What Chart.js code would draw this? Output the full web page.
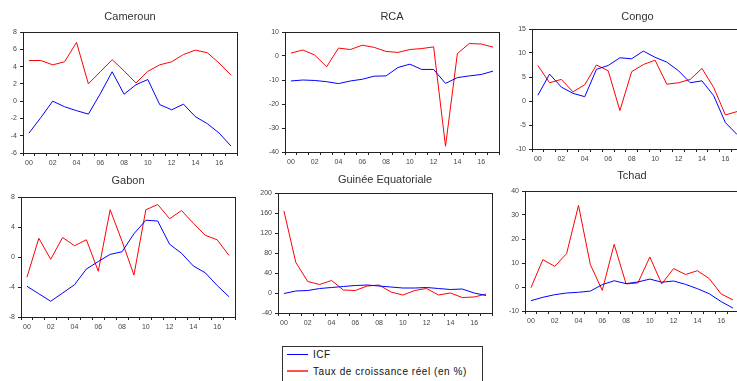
<!DOCTYPE html>
<html lang="fr">
<head>
<meta charset="utf-8">
<title>ICF et croissance - CEMAC</title>
<script src="https://cdn.jsdelivr.net/npm/chart.js@4.4.1/dist/chart.umd.min.js"></script>
<style>
  body { margin: 0; background: #fff; width: 737px; height: 381px; overflow: hidden; position: relative;
         font-family: "Liberation Sans", Arial, sans-serif; }
  canvas { position: absolute; }
  #legende { position: absolute; left: 282px; top: 346px; width: 201px; height: 50px;
             border: 1px solid #333; box-sizing: border-box; }
  #legende .item { position: absolute; left: 4px; font-size: 10px; letter-spacing: 0.55px; color: #111;
                   line-height: 12px; white-space: nowrap; }
  #legende .trait { display: inline-block; width: 21px; vertical-align: middle; margin-right: 5px; margin-top: -2px; }
</style>
</head>
<body>

<canvas id="cameroun"></canvas>
<canvas id="rca"></canvas>
<canvas id="congo"></canvas>
<canvas id="gabon"></canvas>
<canvas id="guinee"></canvas>
<canvas id="tchad"></canvas>

<div id="legende">
  <div class="item" style="top:2px"><span class="trait" style="border-top:1px solid #0000ff"></span>ICF</div>
  <div class="item" style="top:19px"><span class="trait" style="border-top:2px solid #ff5050"></span>Taux de croissance réel (en %)</div>
</div>

<script>
// années 2000 à 2017
const annees = ['00', '01', '02', '03', '04', '05', '06', '07', '08', '09',
                '10', '11', '12', '13', '14', '15', '16', '17'];

const camerounICF  = [-3.7, -1.9, 0.0, -0.65, -1.1, -1.5, 0.85, 3.4, 0.8, 1.9, 2.5, -0.4, -1.0, -0.35, -1.8, -2.6, -3.7, -5.2];
const camerounTaux = [4.7, 4.7, 4.2, 4.55, 6.8, 2.0, 3.4, 4.8, 3.5, 2.1, 3.45, 4.2, 4.55, 5.4, 5.9, 5.6, 4.4, 3.0];
const camerounEchelle = [-6, 8, 2];

const rcaICF  = [-10.4, -10.0, -10.2, -10.7, -11.5, -10.4, -9.7, -8.4, -8.3, -4.8, -3.4, -5.6, -5.6, -11.4, -9.0, -8.3, -7.7, -6.3];
const rcaTaux = [1.2, 2.5, 0.4, -4.5, 3.3, 2.7, 4.5, 3.6, 1.9, 1.5, 2.7, 3.1, 3.8, -37.6, 1.0, 5.2, 5.0, 3.7];
const rcaEchelle = [-40, 10, 10];

const congoICF  = [1.2, 5.6, 2.9, 1.6, 0.9, 6.6, 7.4, 9.0, 8.8, 10.4, 9.1, 8.1, 6.3, 3.8, 4.2, 1.1, -4.5, -7.0];
const congoTaux = [7.4, 3.8, 4.5, 1.9, 3.4, 7.5, 6.3, -2.0, 6.1, 7.6, 8.5, 3.5, 3.8, 4.5, 6.8, 2.8, -2.9, -2.2];
const congoEchelle = [-10, 15, 5];

const gabonICF  = [-3.9, -4.9, -5.9, -4.8, -3.7, -1.6, -0.6, 0.35, 0.7, 3.1, 4.9, 4.8, 1.7, 0.5, -1.2, -2.1, -3.8, -5.3];
const gabonTaux = [-2.7, 2.5, -0.3, 2.6, 1.5, 2.3, -1.9, 6.3, 2.1, -2.4, 6.3, 7.0, 5.1, 6.2, 4.5, 2.9, 2.3, 0.2];
const gabonEchelle = [-8, 8, 4];

const guineeICF  = [-1, 4, 5, 9, 11, 13, 15, 16, 14, 12, 10, 10, 11, 9, 7, 8, 0, -5];
const guineeTaux = [164, 61, 23, 17, 25, 6, 5, 14, 16, 2, -4, 5, 9, -4, 0, -9, -8, -2];
const guineeEchelle = [-40, 200, 40];

const tchadICF  = [-5.7, -4.3, -3.2, -2.5, -2.2, -1.7, 1.0, 2.6, 1.4, 2.1, 3.3, 2.0, 2.5, 1.1, -0.7, -2.8, -6.1, -8.8];
const tchadTaux = [-0.3, 11.4, 8.6, 13.9, 34.0, 9.3, -1.4, 17.8, 1.3, 1.7, 12.5, 1.3, 7.7, 5.2, 6.8, 3.5, -2.9, -5.4];
const tchadEchelle = [-10, 40, 10];

Chart.defaults.font.family = '"Liberation Sans", Arial, sans-serif';

// cadre noir autour de la zone de tracé
const cadre = {
    id: 'cadre',
    afterDraw(chart) {
        const { ctx, chartArea: a } = chart;
        ctx.save();
        ctx.strokeStyle = '#222';
        ctx.lineWidth = 1;
        ctx.strokeRect(Math.floor(a.left) + 0.5, Math.floor(a.top) + 0.5,
                       Math.round(a.right - a.left), Math.round(a.bottom - a.top));
        ctx.restore();
    }
};

// zone = [gauche, haut, droite, bas] de la zone de tracé dans la page
function graphique(id, titre, icf, taux, echelle, zone, titreY) {
    const marge = { gauche: 24, haut: 28, bas: 18, droite: 2 };
    const canvas = document.getElementById(id);
    const w = zone[2] - zone[0] + marge.gauche + marge.droite;
    const h = zone[3] - zone[1] + marge.haut + marge.bas;
    canvas.width = w;
    canvas.height = h;
    canvas.style.left = (zone[0] - marge.gauche) + 'px';
    canvas.style.top = (zone[1] - marge.haut) + 'px';
    const padTitre = titreY - (zone[1] - marge.haut) - 5.5;

    new Chart(canvas, {
        type: 'line',
        data: {
            labels: annees,
            datasets: [
                { label: 'ICF', data: icf, borderColor: '#0000ff', borderWidth: 1, pointRadius: 0, tension: 0 },
                { label: 'Taux de croissance réel (en %)', data: taux, borderColor: '#ff0000', borderWidth: 1, pointRadius: 0, tension: 0 }
            ]
        },
        options: {
            responsive: false,
            animation: false,
            layout: { padding: { left: 0, top: 0, bottom: 0, right: marge.droite } },
            plugins: {
                legend: { display: false },
                tooltip: { enabled: false },
                title: {
                    display: true,
                    text: titre,
                    fullSize: false,
                    color: '#333',
                    font: { size: 11, weight: 'normal', lineHeight: 1 },
                    padding: { top: padTitre, bottom: marge.haut - padTitre - 11 }
                }
            },
            scales: {
                x: {
                    offset: true,
                    grid: { offset: true, drawOnChartArea: false, tickLength: 3, color: '#222' },
                    border: { color: '#222' },
                    ticks: {
                        autoSkip: false, maxRotation: 0, padding: 3, color: '#444',
                        font: { size: 7 },
                        callback: (v, i) => (i % 2 === 0 ? annees[i] : '')
                    },
                    afterFit: (s) => { s.height = marge.bas; }
                },
                y: {
                    min: echelle[0],
                    max: echelle[1],
                    grid: { drawOnChartArea: false, tickLength: 3, color: '#222' },
                    border: { color: '#222' },
                    ticks: { stepSize: echelle[2], padding: 3, color: '#444', font: { size: 7 } },
                    afterFit: (s) => { s.width = marge.gauche; }
                }
            }
        },
        plugins: [cadre]
    });
}

graphique('cameroun', 'Cameroun', camerounICF, camerounTaux, camerounEchelle, [23, 32, 237, 153], 17);
graphique('rca', 'RCA', rcaICF, rcaTaux, rcaEchelle, [285, 32, 499, 152], 17);
graphique('congo', 'Congo', congoICF, congoTaux, congoEchelle, [532, 29, 743, 149], 17);
graphique('gabon', 'Gabon', gabonICF, gabonTaux, gabonEchelle, [21, 197, 235, 317], 181);
graphique('guinee', 'Guinée Equatoriale', guineeICF, guineeTaux, guineeEchelle, [278, 193, 492, 313], 180);
graphique('tchad', 'Tchad', tchadICF, tchadTaux, tchadEchelle, [525, 191, 739, 311], 176);
</script>
</body>
</html>
